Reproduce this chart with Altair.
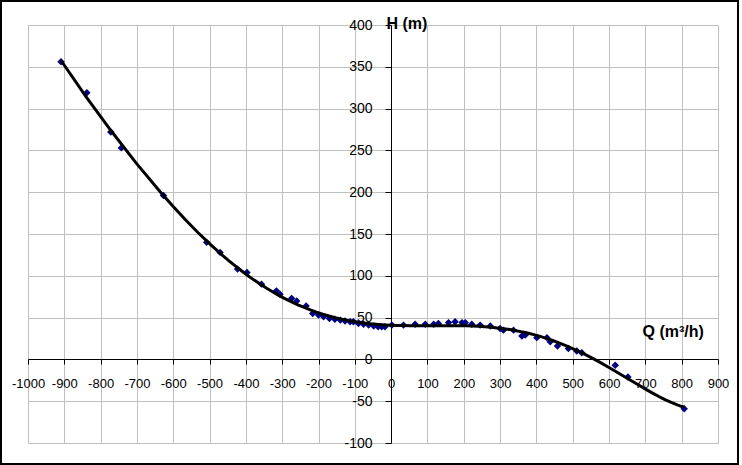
import altair as alt
import pandas as pd

# Measured points (Q in m3/h, H in m)
Q = [-909, -838, -772, -743, -627, -508, -471, -423, -397, -357, -316, -306,
     -274, -260, -234, -216, -200, -186, -170, -155, -140, -127, -113, -104,
     -90, -76, -62, -48, -36, -26, -17, 2, 34, 66, 94, 117, 130, 158, 176,
     195, 204, 222, 245, 273, 300, 309, 337, 360, 369, 401, 429, 438, 458,
     488, 511, 525, 617, 652, 807]
H = [356, 319, 272, 253, 196, 140, 128, 108, 104, 90, 82, 78,
     73, 70, 64, 55, 53, 51, 49, 48, 47, 46, 45, 45,
     43, 42, 41, 40, 39, 39, 39, 41, 41, 42, 42, 42, 43, 44, 45,
     44, 44, 42, 41, 40, 37, 35, 35, 28, 29, 26, 26, 21, 16,
     13, 10, 8, -7, -21, -59]

X_TICKS = list(range(-1000, 901, 100))
Y_TICKS = list(range(-100, 401, 50))
X_TITLE = "Q (m³/h)"
Y_TITLE = "H (m)"

df = pd.DataFrame({"Q": Q, "H": H})

LABEL_FONT = "Liberation Sans, Arial"
TITLE_FONT = "Liberation Sans, Arial"

xscale = alt.Scale(domain=[-1000, 900], nice=False, zero=False)
yscale = alt.Scale(domain=[-100, 400], nice=False, zero=False)

xaxis = alt.Axis(
    values=X_TICKS, tickCount=20, offset=-84, labelExpr="'' + datum.value",
    grid=True, gridColor="#c0c0c0", gridWidth=1,
    domainColor="black", domainWidth=1, tickColor="black", tickSize=5,
    labelFont=LABEL_FONT, labelFontSize=13, labelColor="black", labelPadding=13,
    labelFlush=False, labelOverlap=False,
    title=X_TITLE, titleFont=TITLE_FONT, titleFontSize=16, titleFontWeight="bold",
    titleColor="black", titleAngle=0, titleAlign="left", titleBaseline="alphabetic",
    titleX=614, titleY=-23,
)
yaxis = alt.Axis(
    values=Y_TICKS, tickCount=11, offset=-363, labelExpr="'' + datum.value",
    grid=True, gridColor="#c0c0c0", gridWidth=1,
    domainColor="black", domainWidth=1, tickColor="black", tickSize=6,
    labelFont=LABEL_FONT, labelFontSize=14, labelColor="black", labelPadding=13,
    labelFlush=False, labelOverlap=False,
    title=Y_TITLE, titleFont=TITLE_FONT, titleFontSize=16, titleFontWeight="bold",
    titleColor="black", titleAngle=0, titleAlign="left", titleBaseline="alphabetic",
    titleX=-5, titleY=3,
)

base = alt.Chart(df)

points = base.mark_point(shape="diamond", filled=True, color="#000080",
                         size=55, opacity=1).encode(
    x=alt.X("Q:Q", scale=xscale, axis=xaxis),
    y=alt.Y("H:Q", scale=yscale, axis=yaxis),
)

trend = base.transform_regression("Q", "H", method="poly", order=6).mark_line(
    color="black", strokeWidth=3).encode(
    x=alt.X("Q:Q", scale=xscale, axis=xaxis),
    y=alt.Y("H:Q", scale=yscale, axis=yaxis),
)

frame = alt.Chart(pd.DataFrame({"a": [0]})).mark_rect(
    fillOpacity=0, stroke="black", strokeWidth=2).encode(
    x=alt.value(-27), x2=alt.value(710), y=alt.value(-24), y2=alt.value(439))

chart = alt.layer(points, trend, frame).properties(
    width=690, height=418,
    autosize=alt.AutoSizeParams(type="none"),
    padding={"left": 28, "top": 25, "right": 24, "bottom": 22},
).configure_view(stroke=None).configure(background="white")

chart.save("out.html", embed_options={"renderer": "svg", "actions": False})
